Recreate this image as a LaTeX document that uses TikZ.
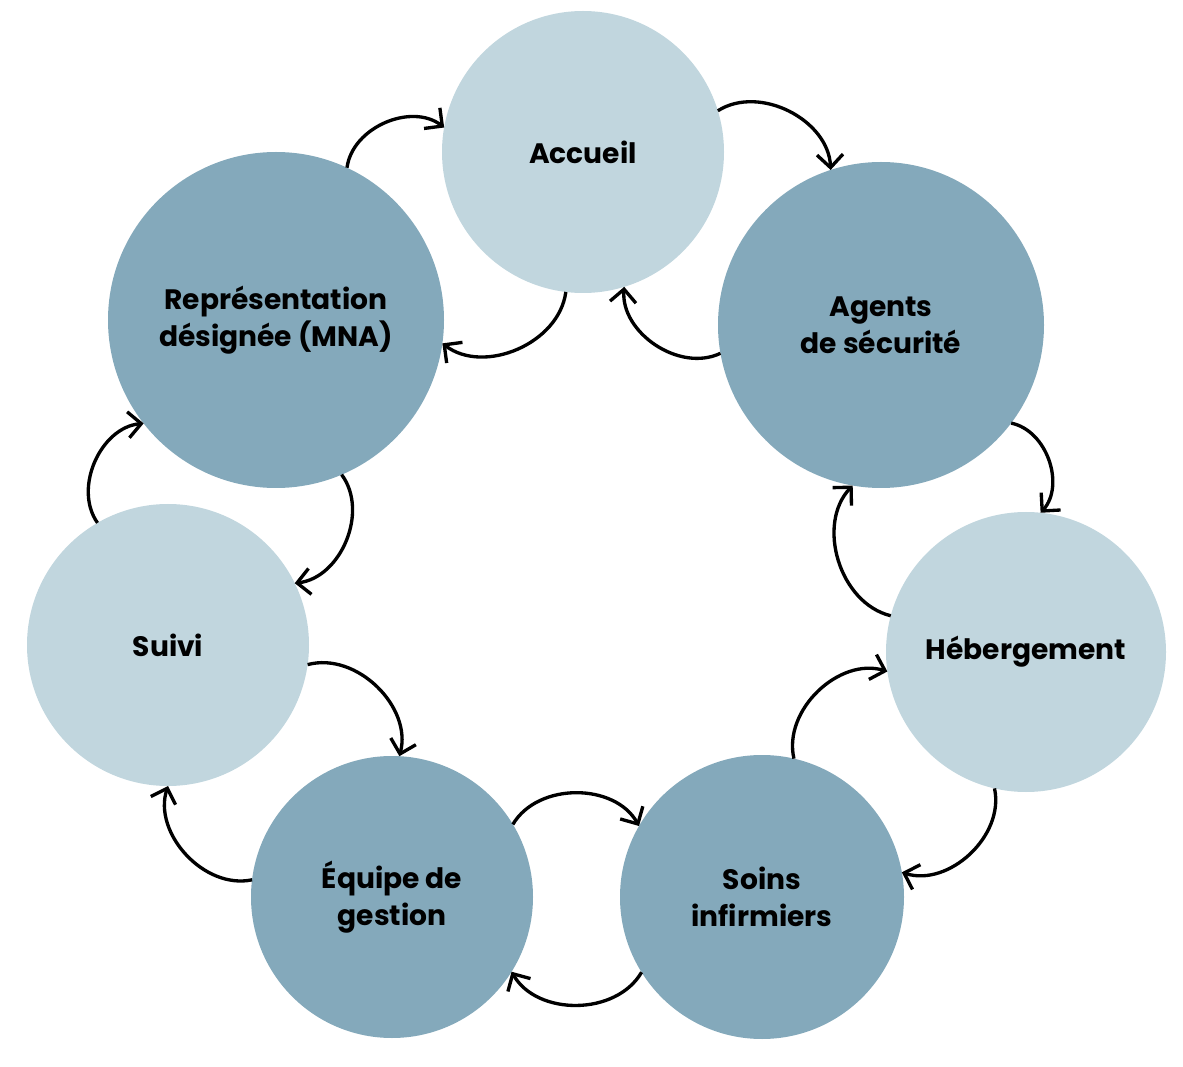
\documentclass[tikz,border=0pt]{standalone}
\usepackage{fontspec}
\setmainfont{Poppins}
\usetikzlibrary{arrows.meta}
\definecolor{clair}{HTML}{C1D6DE}
\definecolor{fonce}{HTML}{84A9BB}
\tikzset{
  etape/.style={circle, inner sep=0pt, outer sep=0pt, align=center,
    font=\fontsize{16}{21}\selectfont\bfseries},
  fleche/.style={-{Straight Barb[length=2.6mm,width=5.2mm]}, line width=1.9pt, bend left=60}
}
\begin{document}
\begin{tikzpicture}
\useasboundingbox (0,0) rectangle (23.66,-21.34);
\node[etape, fill=clair, minimum size=5.64cm] (acc) at (11.66,-3.04) {Accueil};
\node[etape, fill=fonce, minimum size=6.52cm] (agt) at (17.62,-6.50) {Agents\\ de sécurité};
\node[etape, fill=clair, minimum size=5.60cm] (heb) at (20.52,-13.04) {Hébergement};
\node[etape, fill=fonce, minimum size=5.68cm] (soi) at (15.24,-17.94) {Soins\\ infirmiers};
\node[etape, fill=fonce, minimum size=5.64cm] (equ) at (7.84,-17.94) {Équipe de\\ gestion};
\node[etape, fill=clair, minimum size=5.64cm] (sui) at (3.36,-12.90) {Suivi};
\node[etape, fill=fonce, minimum size=6.72cm] (rep) at (5.52,-6.40) {Représentation\\ désignée (MNA)};
% fleches exterieures
\draw[fleche] (rep.65) to (acc.170);
\draw[fleche] (acc.17) to (agt.108);
\draw[fleche] (agt.-37) to (heb.84);
\draw[fleche] (heb.257) to (soi.10);
\draw[fleche] (soi.212) to (equ.328);
\draw[fleche] (equ.173) to (sui.270);
\draw[fleche] (sui.120) to (rep.218);
% fleches interieures
\draw[fleche] (agt.190) to (acc.287);
\draw[fleche] (acc.263) to (rep.352);
\draw[fleche] (heb.165) to (agt.260);
\draw[fleche] (soi.77) to (heb.188);
\draw[fleche] (equ.31) to (soi.150);
\draw[fleche] (sui.352) to (equ.87);
\draw[fleche] (rep.293) to (sui.26);
\end{tikzpicture}
\end{document}
